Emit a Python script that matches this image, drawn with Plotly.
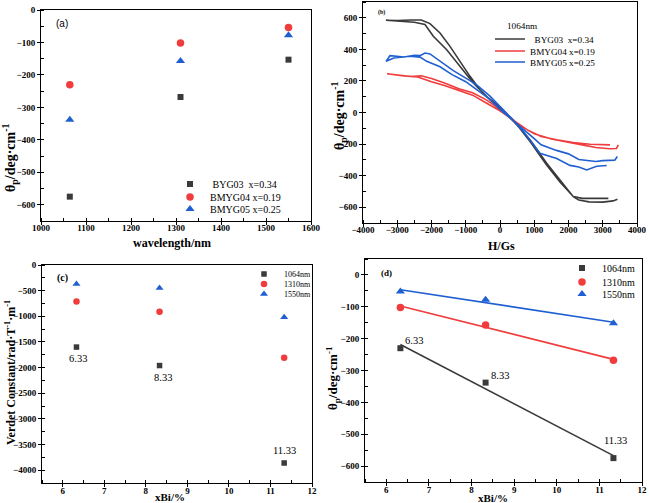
import numpy as np
import plotly.graph_objects as go

W, H = 649, 503
SERIF = "Liberation Serif"
SANS = "Liberation Sans"
BLACK, RED, BLUE = "#3a3a3a", "#f03c3c", "#1f5fd2"


def px(x):
    return x / W


def py(y):
    return 1 - y / H


# ---------------- data ----------------
# (a) Faraday rotation vs wavelength
wavelength = [1064, 1310, 1550]
a_BYG03 = [-575, -268, -153]
a_BMYG04 = [-230, -102, -54]
a_BMYG05 = [-338, -157, -78]
a_names = ["\u00a0BYG03\u00a0\u00a0x=0.34", "BMYG04 x=0.19", "BMYG05 x=0.25"]

# (b) hysteresis loops at 1064 nm (H in Gs, theta in deg/cm)
b_H_BYG03 = [3430, 3300, 3000, 2600, 2300, 2150, 1750, 1350, 900, 400, 0, -390, -779, -1168, -1556, -1947,
             -2190, -2500, -3000, -3330,
             -3000, -2600, -2300, -2044, -1752, -1460, -1168, -876, -584, -195, 100, 500, 876, 1363, 1752,
             2141, 2400, 2800, 3164]
b_T_BYG03 = [-550, -560, -568, -566, -555, -535, -440, -330, -190, -50, 35, 100, 187, 292, 398, 483,
             557, 572, 580, 584,
             583, 586, 586, 563, 504, 419, 324, 229, 144, 60, 10, -80, -173, -321, -427,
             -533, -544, -546, -544]
b_H_BMYG04 = [3456, 3400, 3200, 2800, 2400, 2000, 1500, 1000, 600, 200, 0, -400, -800, -1200, -1600, -2000,
              -2400, -2800, -3300,
              -2900, -2600, -2300, -2000, -1600, -1200, -800, -400, 0, 400, 800, 1200, 1655, 2141, 2628, 3212]
b_T_BMYG04 = [-205, -228, -230, -222, -205, -188, -168, -135, -85, -20, 10, 60, 110, 140, 170, 195,
              225, 232, 245,
              236, 228, 233, 215, 185, 150, 125, 80, 20, -50, -110, -152, -173, -190, -201, -205]
b_H_BMYG05 = [3427, 3350, 3000, 2800, 2300, 2000, 1650, 1200, 1000, 700, 400, 0, -300, -600, -1000, -1400,
              -1750, -2140, -2336, -2628, -3100, -3328,
              -3212, -2800, -2500, -2336, -2190, -2044, -1752, -1363, -974, -682, -292, 0, 389, 700, 973,
              1168, 1655, 2044, 2300, 2530, 2822, 3116]
b_T_BMYG05 = [-279, -302, -305, -310, -298, -262, -240, -205, -165, -110, -55, 20, 85, 130, 195, 240,
              290, 324, 351, 356, 345, 324,
              360, 352, 362, 360, 377, 371, 324, 265, 215, 175, 104, 40, -50, -125, -200,
              -258, -292, -335, -345, -364, -340, -336]
b_names = ["\u00a0\u00a0BYG03\u00a0\u00a0x=0.34", "BMYG04 x=0.19", "BMYG05 x=0.25"]

# (c) Verdet constant vs Bi content
xBi = [6.33, 8.33, 11.33]
xBi_labels = ["6.33", "8.33", "11.33"]
c_1064 = [-1600, -1960, -3860]
c_1310 = [-710, -910, -1810]
c_1550 = [-370, -450, -1020]

# (d) Faraday rotation vs Bi content
d_1064 = [-230, -338, -575]
d_1310 = [-102, -157, -268]
d_1550 = [-52, -78, -152]
wl_names = ["1064nm", "1310nm", "1550nm"]

fig = go.Figure()


def legend_cfg(left_px, center_px, size):
    return dict(x=px(left_px), y=py(center_px), xanchor="left", yanchor="middle",
                bgcolor="rgba(0,0,0,0)", borderwidth=0, tracegroupgap=0,
                font=dict(family=SERIF, size=size, color="black"))


legends = {}
leg_i = [0]


def new_legend(left_px, center_px, size):
    leg_i[0] += 1
    name = "legend" if leg_i[0] == 1 else "legend%d" % leg_i[0]
    legends[name] = legend_cfg(left_px, center_px, size)
    return name


# ---- (a)
syms = ["square", "circle", "triangle-up"]
cols = [BLACK, RED, BLUE]
sizes_a = [6, 7.5, 8]
rows_a = [184, 197, 209]
for vals, nm, s, c, sz, r in zip([a_BYG03, a_BMYG04, a_BMYG05], a_names, syms, cols, sizes_a, rows_a):
    fig.add_trace(go.Scatter(x=wavelength, y=vals, mode="markers", name=nm,
                             marker=dict(symbol=s, color=c, size=sz),
                             xaxis="x", yaxis="y", legend=new_legend(170, r, 10)))

# ---- (b)
rows_b = [39, 51, 62]
for hh, tt, nm, c, r in zip([b_H_BYG03, b_H_BMYG04, b_H_BMYG05], [b_T_BYG03, b_T_BMYG04, b_T_BMYG05],
                            b_names, cols, rows_b):
    fig.add_trace(go.Scatter(x=hh, y=tt, mode="lines", name=nm, line=dict(color=c, width=1.6),
                             xaxis="x2", yaxis="y2", legend=new_legend(490, r, 9.2)))

# ---- (c)
sizes_c = [5.5, 6.5, 7]
rows_c = [274, 284, 294]
for vals, nm, s, c, sz, r in zip([c_1064, c_1310, c_1550], wl_names, syms, cols, sizes_c, rows_c):
    fig.add_trace(go.Scatter(x=xBi, y=vals, mode="markers", name=nm,
                             marker=dict(symbol=s, color=c, size=sz),
                             xaxis="x3", yaxis="y3", legend=new_legend(244, r, 8)))

# ---- (d)
sizes_d = [6, 7.5, 8]
rows_d = [268, 282, 294]
for vals, nm, s, c, sz, r in zip([d_1064, d_1310, d_1550], wl_names, syms, cols, sizes_d, rows_d):
    k, b0 = np.polyfit(xBi, vals, 1)
    xf = [min(xBi), max(xBi)]
    fig.add_trace(go.Scatter(x=xf, y=[k * v + b0 for v in xf], mode="lines", showlegend=False,
                             line=dict(color=c, width=1.6), xaxis="x4", yaxis="y4", hoverinfo="skip"))
    fig.add_trace(go.Scatter(x=xBi, y=vals, mode="markers", name=nm,
                             marker=dict(symbol=s, color=c, size=sz),
                             xaxis="x4", yaxis="y4", legend=new_legend(562, r, 10)))

# ---------------- axes ----------------
tickfont = dict(family=SERIF, size=9, color="black", weight="bold")


def ax(domain, rng, dtick, anchor, minor_dtick, tick0=None, standoff=0):
    d = dict(domain=domain, range=rng, dtick=dtick, anchor=anchor, showgrid=False, zeroline=False,
             automargin=False,
             showline=True, linecolor="black", linewidth=1, mirror=True,
             ticks="outside", ticklen=3, tickcolor="black", tickwidth=1, tickfont=tickfont,
             ticklabelstandoff=standoff,
             minor=dict(dtick=minor_dtick, ticks="inside", ticklen=3, tickcolor="black", showgrid=False))
    if tick0 is not None:
        d["tick0"] = tick0
    return d


fig.update_layout(
    template="none",
    width=W, height=H, autosize=False,
    margin=dict(l=0, r=0, t=0, b=0, pad=0),
    paper_bgcolor="white", plot_bgcolor="white",
    showlegend=True,
    xaxis=ax([px(41), px(311)], [1000, 1600], 100, "y", 50, standoff=-5),
    yaxis=ax([py(221), py(10)], [-650, 0], 100, "x", 50),
    xaxis2=ax([px(363), px(637)], [-4000, 4000], 1000, "y2", 500, standoff=-5),
    yaxis2=ax([py(223), py(2)], [-700, 700], 200, "x2", 100),
    xaxis3=ax([px(42), px(312)], [5.5, 12], 1, "y3", 0.5, tick0=6, standoff=-4),
    yaxis3=ax([py(483), py(265)], [-4250, 0], 500, "x3", 250),
    xaxis4=ax([px(365), px(642)], [5.5, 12], 1, "y4", 0.5, tick0=6, standoff=-4),
    yaxis4=ax([py(482), py(259)], [-650, 50], 100, "x4", 50),
    **legends,
)

# ---------------- text ----------------
ann = []


def paper_text(x, y, text, size, family=SERIF, bold=True, angle=0):
    ann.append(dict(x=px(x), y=py(y), xref="paper", yref="paper", text=text, showarrow=False,
                    textangle=angle, xanchor="center", yanchor="middle",
                    font=dict(family=family, size=size, color="black", weight="bold" if bold else "normal")))


theta_title = "\u03b8<sub>p</sub>/deg\u00b7cm<sup>-1</sup>"
paper_text(10, 158, theta_title, 14, angle=-90)
paper_text(172, 243, "wavelength/nm", 12)
paper_text(62, 24, "(a)", 10, family=SANS, bold=False)

paper_text(339, 116, theta_title, 14, angle=-90)
paper_text(501, 246, "H/Gs", 12)
paper_text(381, 13, "(b)", 6)
paper_text(522, 26, "1064nm", 9.2, bold=False)

paper_text(10, 373, "Verdet Constant/rad\u00b7T<sup>-1</sup>\u00b7m<sup>-1</sup>", 12, angle=-90)
paper_text(170, 497, "xBi/%", 11)
paper_text(62, 278, "(c)", 10)

paper_text(333, 378, theta_title, 13, angle=-90)
paper_text(493, 498, "xBi/%", 11)
paper_text(386, 273, "(d)", 9)

c_shift = [(2, -11), (3, -12), (0, 13)]
d_shift = [(14, 8), (14, 7), (2, 18)]
for xv, lab, yc, yd, cs, ds in zip(xBi, xBi_labels, c_1064, d_1064, c_shift, d_shift):
    ann.append(dict(x=xv, y=yc, xref="x3", yref="y3", text=lab, showarrow=False, xshift=cs[0], yshift=cs[1],
                    font=dict(family=SERIF, size=10.5, color="black")))
    ann.append(dict(x=xv, y=yd, xref="x4", yref="y4", text=lab, showarrow=False, xshift=ds[0], yshift=ds[1],
                    font=dict(family=SERIF, size=10.5, color="black")))

fig.update_layout(annotations=ann)
fig.write_html("out.html", config={"displayModeBar": False},
               post_script="document.body.style.margin='0';document.body.style.overflow='hidden';")
